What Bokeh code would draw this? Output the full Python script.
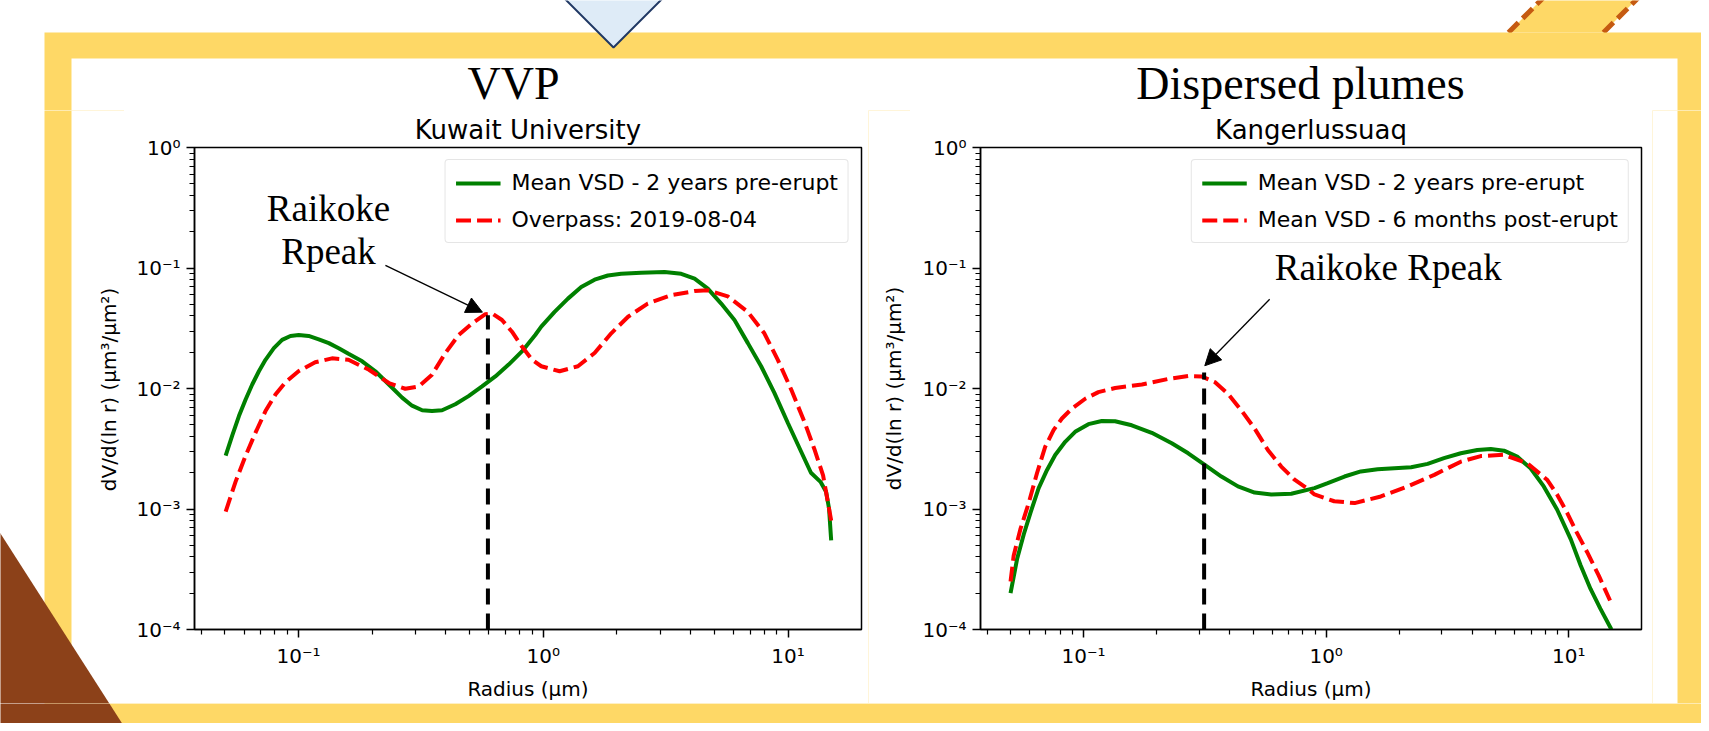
import math
from bokeh.plotting import figure
from bokeh.layouts import row, column
from bokeh.models import (Range1d, FixedTicker, CustomJSTickFormatter, Arrow,
                          NormalHead, Label, Legend)
from bokeh.core.properties import value
from bokeh.embed import file_html
from bokeh.resources import INLINE

# ---------------- data ----------------
vvp_pre_r = [0.0504, 0.0536, 0.0571, 0.0608, 0.0647, 0.0689, 0.0733, 0.0793, 0.0857, 0.0927,
             0.1002, 0.110, 0.121, 0.133, 0.146, 0.160, 0.182, 0.206, 0.234, 0.265,
             0.291, 0.320, 0.351, 0.386, 0.437, 0.495, 0.562, 0.637, 0.722, 0.818,
             0.927, 0.981, 1.112, 1.261, 1.429, 1.62, 1.836, 2.08, 2.51, 3.13,
             3.66, 4.15, 4.70, 5.33, 6.04, 6.85, 7.76, 8.79, 9.97, 11.3,
             12.4, 13.6, 14.3, 14.7, 15.0]
vvp_pre_v = [0.00277, 0.00406, 0.00591, 0.0081, 0.0108, 0.0139, 0.0173, 0.0216, 0.0253, 0.0273,
             0.0278, 0.0273, 0.0256, 0.0238, 0.0216, 0.0194, 0.0168, 0.0139, 0.0108, 0.0084,
             0.0072, 0.0066, 0.0065, 0.0066, 0.0074, 0.00865, 0.0104, 0.0126, 0.0158, 0.0203,
             0.0278, 0.0326, 0.0432, 0.0557, 0.0695, 0.0800, 0.0867, 0.0895, 0.0912, 0.0925,
             0.0895, 0.0815, 0.0675, 0.0507, 0.0370, 0.0238, 0.0153, 0.0092, 0.0052, 0.0030,
             0.0020, 0.00167, 0.00139, 0.00101, 0.00055]

vvp_obs_r = [0.0504, 0.0553, 0.0608, 0.0668, 0.0733, 0.0805, 0.0885, 0.100, 0.117, 0.137,
             0.160, 0.194, 0.234, 0.273, 0.310, 0.351, 0.398, 0.451, 0.512, 0.580,
             0.618, 0.678, 0.745, 0.818, 0.90, 0.981, 1.166, 1.385, 1.62, 1.895,
             2.22, 2.67, 3.33, 4.15, 4.70, 5.67, 6.85, 8.0, 9.08, 10.3,
             11.7, 12.8, 13.9, 15.0]
vvp_obs_v = [0.00095, 0.00168, 0.00277, 0.00432, 0.0065, 0.0089, 0.0113, 0.0139, 0.0165, 0.0178,
             0.0173, 0.0143, 0.0111, 0.00995, 0.0104, 0.0130, 0.0197, 0.0278, 0.0347, 0.0414,
             0.0420, 0.0370, 0.0296, 0.0223, 0.0173, 0.0153, 0.0139, 0.0153, 0.0197, 0.0287,
             0.0394, 0.0507, 0.0594, 0.0644, 0.0653, 0.0582, 0.0432, 0.0287, 0.0173, 0.0098,
             0.0052, 0.00315, 0.0019, 0.0008]

kan_pre_r = [0.05, 0.0532, 0.0567, 0.0604, 0.0653, 0.0707, 0.0764, 0.0840, 0.0923, 0.1047,
             0.1189, 0.1349, 0.158, 0.191, 0.231, 0.270, 0.316, 0.370, 0.433, 0.507,
             0.594, 0.718, 0.895, 1.015, 1.19, 1.39, 1.63, 1.91, 2.24, 2.62,
             3.06, 3.59, 4.20, 4.77, 5.41, 6.13, 6.96, 7.89, 8.95, 10.2,
             11.2, 12.3, 13.5, 15.0]
kan_pre_v = [0.0002, 0.000384, 0.000617, 0.00093, 0.00149, 0.00211, 0.00281, 0.00361, 0.00437, 0.00506,
             0.00538, 0.00535, 0.00495, 0.00429, 0.00351, 0.0029, 0.00232, 0.00186, 0.00154, 0.00137,
             0.00132, 0.00134, 0.00149, 0.00164, 0.00186, 0.00205, 0.00214, 0.00218, 0.00222, 0.00237,
             0.00264, 0.0029, 0.00309, 0.00315, 0.00305, 0.00272, 0.00218, 0.00154, 0.00099, 0.00056,
             0.00034, 0.000217, 0.000149, 0.0001]

kan_post_r = [0.05, 0.0515, 0.0549, 0.0594, 0.0643, 0.0695, 0.0752, 0.0814, 0.0895, 0.1016,
              0.1151, 0.1349, 0.174, 0.2234, 0.270, 0.306, 0.3475, 0.394, 0.447, 0.507,
              0.575, 0.653, 0.741, 0.84, 0.895, 1.08, 1.31, 1.68, 2.17, 2.79,
              3.59, 4.34, 5.4, 6.74, 8.14, 8.95, 9.85, 10.8, 11.9, 13.3, 14.8]
kan_post_v = [0.00025, 0.00041, 0.00068, 0.00112, 0.00199, 0.00329, 0.00451, 0.00564, 0.00681, 0.00822,
              0.00933, 0.0101, 0.0108, 0.0120, 0.0127, 0.0126, 0.0113, 0.00904, 0.00659, 0.00466,
              0.00309, 0.00225, 0.00175, 0.00147, 0.00132, 0.00116, 0.00112, 0.00127, 0.00154, 0.00192,
              0.00247, 0.00275, 0.00282, 0.0024, 0.00175, 0.00132, 0.00093, 0.000637, 0.00044, 0.00028,
              0.000174]

vvp_peak_r, vvp_peak_v = 0.594, 0.0406
kan_peak_r, kan_peak_v = 0.314, 0.0136

y_major = [1e-4, 1e-3, 1e-2, 1e-1, 1.0]
y_minor = [k * 10.0 ** e for e in range(-4, 0) for k in range(2, 10)]
x_major = [0.1, 1.0, 10.0]
x_minor = [k * 10.0 ** e for e in range(-2, 2) for k in range(2, 10)]

titles = ["VVP", "Dispersed plumes"]
subtitles = ["Kuwait University", "Kangerlussuaq"]
x_label = "Radius (\u03bcm)"
y_label = "dV/d(ln r) (\u03bcm\u00b3/\u03bcm\u00b2)"
legend_labels = [["Mean VSD - 2 years pre-erupt", "Overpass: 2019-08-04"],
                 ["Mean VSD - 2 years pre-erupt", "Mean VSD - 6 months post-erupt"]]

# ---------------- styling / layout (page pixel coordinates) ----------------
X_EDGES = [0, 124, 868, 910, 1652, 1701]   # left tile | plot 1 | gap | plot 2 | right tile
Y_EDGES = [0, 110, 703, 723]               # top tile | plots | bottom tile
GREEN = "#008000"
RED = "#ff0000"
YELLOW = "#FED866"
ORANGE = "#C55A11"
BROWN = "#8C4119"
SANS = "DejaVu Sans"
SERIF = "Liberation Serif"


def no_align(f):
    if "frame_align" in type(f).properties():
        f.frame_align = False


def decorate(f):
    # diagonal stripe top right
    f.patch([1508, 1550, 1645, 1603], [32, -10, -10, 32], fill_color=YELLOW, line_color=None)
    f.line([1508, 1550], [32, -10], line_color=ORANGE, line_width=5, line_dash="14 6")
    f.line([1603, 1645], [32, -10], line_color=ORANGE, line_width=5, line_dash="14 6")
    # yellow frame
    f.quad(left=[44], right=[1708], top=[32], bottom=[740], fill_color=YELLOW, line_color=None)
    f.quad(left=[71], right=[1677], top=[58], bottom=[703], fill_color="white", line_color=None)
    # diamond
    f.patch([613, 693, 613, 533], [47, -33, -113, -33], fill_color="#DEEBF7",
            line_color="#203864", line_width=2)
    # brown triangle
    f.patch([-2, 130, -2], [530, 736, 736], fill_color=BROWN, line_color=None)


def tile(x0, x1, y0, y1):
    f = figure(width=x1 - x0, height=y1 - y0, x_range=Range1d(x0, x1), y_range=Range1d(y1, y0),
               min_border=0, toolbar_location=None, output_backend="svg",
               x_axis_location=None, y_axis_location=None)
    no_align(f)
    f.grid.visible = False
    f.outline_line_color = None
    f.background_fill_color = "white"
    f.border_fill_color = "white"
    decorate(f)
    return f


fmt_code = """
const e = Math.round(Math.log10(tick));
const m = {"-": "\\u207b", "0": "\\u2070", "1": "\\u00b9", "2": "\\u00b2", "3": "\\u00b3", "4": "\\u2074"};
let s = "";
for (const c of String(e)) { s += m[c]; }
return "10" + s;
"""


def make_plot(ra, va, rb, vb, labels, subtitle, peak_r, peak_v, canvas, frame, arrow, texts):
    cx0, cx1 = canvas
    left, top, right, bottom = frame
    cy0, cy1 = Y_EDGES[1], Y_EDGES[2]
    allr = ra + rb
    lo, hi = math.log10(0.05), math.log10(15.0)
    pad = 0.05 * (hi - lo)
    p = figure(width=cx1 - cx0, height=cy1 - cy0, x_axis_type="log", y_axis_type="log",
               x_range=Range1d(10 ** (lo - pad), 10 ** (hi + pad)),
               y_range=Range1d(y_major[0], y_major[-1]),
               min_border_left=left - cx0, min_border_right=cx1 - right,
               min_border_top=top - cy0, min_border_bottom=cy1 - bottom,
               toolbar_location=None, output_backend="svg")
    no_align(p)
    p.border_fill_color = "white"
    p.background_fill_color = "white"
    p.outline_line_color = "black"
    p.outline_line_width = 1.5
    p.grid.visible = False

    p.title.text = subtitle
    p.title.align = "center"
    p.title.text_font = SANS
    p.title.text_font_size = "26px"
    p.title.text_font_style = "normal"
    p.title.text_color = "black"
    p.title.standoff = 5

    p.line(ra, va, line_color=GREEN, line_width=4, legend_label=labels[0])
    p.line(rb, vb, line_color=RED, line_width=4, line_dash="15 6", legend_label=labels[1])
    p.line([peak_r, peak_r], [y_major[0], peak_v], line_color="black", line_width=4,
           line_dash="16 9")

    for ax, maj, mnr in ((p.xaxis[0], x_major, x_minor), (p.yaxis[0], y_major, y_minor)):
        ax.ticker = FixedTicker(ticks=maj, minor_ticks=mnr)
        ax.formatter = CustomJSTickFormatter(code=fmt_code)
        ax.major_label_text_font = SANS
        ax.major_label_text_font_size = "20px"
        ax.major_label_text_color = "black"
        ax.axis_label_text_font = SANS
        ax.axis_label_text_font_size = "20px"
        ax.axis_label_text_font_style = "normal"
        ax.axis_label_text_color = "black"
        ax.axis_line_color = "black"
        ax.axis_line_width = 1.5
        ax.major_tick_in = 0
        ax.major_tick_out = 8
        ax.minor_tick_in = 0
        ax.minor_tick_out = 5
        ax.major_tick_line_width = 1.5
        ax.minor_tick_line_width = 1.2
        ax.major_tick_line_color = "black"
        ax.minor_tick_line_color = "black"
        ax.major_label_standoff = 6
    p.xaxis.axis_label = x_label
    p.xaxis.axis_label_standoff = 6

    leg = p.legend[0]
    leg.location = "top_right"
    leg.margin = 12
    leg.padding = 10
    leg.spacing = 12
    leg.glyph_width = 45
    leg.glyph_height = 20
    leg.label_height = 20
    leg.label_standoff = 11
    leg.label_text_font = SANS
    leg.label_text_font_size = "22px"
    leg.label_text_color = "black"
    leg.border_line_color = "#cccccc"
    leg.border_line_width = 1.5
    leg.background_fill_alpha = 0.8
    if "border_radius" in Legend.properties():
        leg.border_radius = 4

    (xs, ys), (xe, ye) = arrow
    p.add_layout(Arrow(end=NormalHead(size=16, fill_color="black", line_color="black"),
                       x_start=xs, y_start=ys, x_end=xe, y_end=ye,
                       line_color="black", line_width=1.3))
    for (tx, ty, tt) in texts:
        p.add_layout(Label(x=tx, y=ty, text=tt, text_font=SERIF, text_font_size="37px",
                           text_align="center", text_baseline="alphabetic", text_color="black"))
    return p


# top tile with the big titles
top_tile = tile(X_EDGES[0], X_EDGES[-1], Y_EDGES[0], Y_EDGES[1])
top_tile.text(x=[513, 1300], y=[83, 83], text=titles, text_font=value(SERIF),
              text_font_size="46px", text_align="center", text_baseline="alphabetic",
              text_color="black")

left_tile = tile(X_EDGES[0], X_EDGES[1], Y_EDGES[1], Y_EDGES[2])
left_tile.text(x=[108], y=[389], text=[y_label], text_font=value(SANS), text_font_size="20px",
               text_align="center", text_baseline="middle", angle=math.pi / 2, text_color="black")
gap_tile = tile(X_EDGES[2], X_EDGES[3], Y_EDGES[1], Y_EDGES[2])
gap_tile.text(x=[893], y=[388], text=[y_label], text_font=value(SANS), text_font_size="20px",
              text_align="center", text_baseline="middle", angle=math.pi / 2, text_color="black")
right_tile = tile(X_EDGES[4], X_EDGES[5], Y_EDGES[1], Y_EDGES[2])
bottom_tile = tile(X_EDGES[0], X_EDGES[-1], Y_EDGES[2], Y_EDGES[3])

p1 = make_plot(vvp_pre_r, vvp_pre_v, vvp_obs_r, vvp_obs_v, legend_labels[0], subtitles[0],
               vvp_peak_r, vvp_peak_v, (X_EDGES[1], X_EDGES[2]), (194, 146, 861, 632),
               ((0.2265, 0.105), (0.564, 0.043)),
               [(0.1326, 0.309, "Raikoke"), (0.1326, 0.137, "Rpeak")])
p2 = make_plot(kan_pre_r, kan_pre_v, kan_post_r, kan_post_v, legend_labels[1], subtitles[1],
               kan_peak_r, kan_peak_v, (X_EDGES[3], X_EDGES[4]), (980, 145, 1641, 631),
               ((0.585, 0.0551), (0.316, 0.01545)),
               [(1.803, 0.101, "Raikoke Rpeak")])

layout = column(top_tile, row(left_tile, p1, gap_tile, p2, right_tile, spacing=0),
                bottom_tile, spacing=0)

open("out.html", "w", encoding="utf-8").write(file_html(layout, INLINE))
